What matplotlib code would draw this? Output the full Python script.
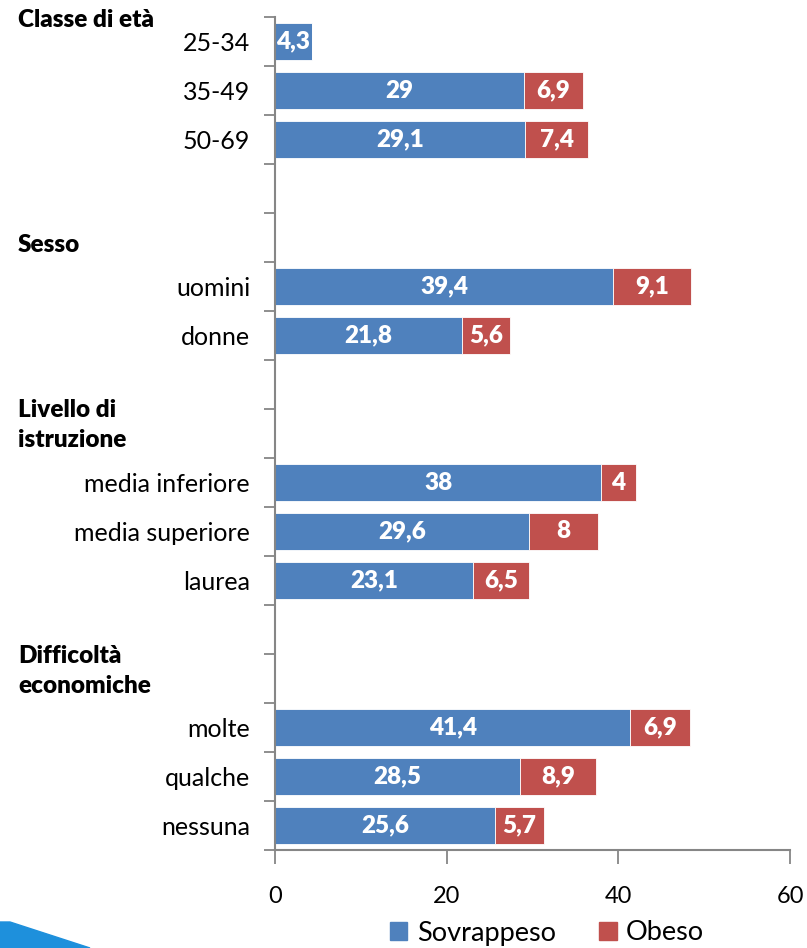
import matplotlib
matplotlib.use("Agg")
import matplotlib.pyplot as plt
from matplotlib.patches import Polygon
import numpy as np

# categorie (dall'alto in basso), righe vuote per separare i gruppi
categorie = ["25-34", "35-49", "50-69", "", "",
             "uomini", "donne", "", "",
             "media inferiore", "media superiore", "laurea", "", "",
             "molte", "qualche", "nessuna"]
sovrappeso = [4.3, 29, 29.1, np.nan, np.nan,
              39.4, 21.8, np.nan, np.nan,
              38, 29.6, 23.1, np.nan, np.nan,
              41.4, 28.5, 25.6]
obeso = [np.nan, 6.9, 7.4, np.nan, np.nan,
         9.1, 5.6, np.nan, np.nan,
         4, 8, 6.5, np.nan, np.nan,
         6.9, 8.9, 5.7]
# titoli dei gruppi e posizione verticale (in unita' di riga)
gruppi = ["Classe di età", "Sesso", "Livello di\nistruzione", "Difficoltà\neconomiche"]
pos_gruppi = [-0.44, 4.15, 7.83, 12.85]

BLU = "#4F81BD"
ROSSO = "#C0504D"
GRIGIO = "#868686"
FONT = "Lato"

plt.rcParams['font.family'] = [FONT, 'DejaVu Sans']

fig = plt.figure(figsize=(8.07, 9.48), dpi=100)
ax = fig.add_axes([275/807, 1-850/948, 515/807, (850-17)/948])

y = np.arange(len(categorie))
s = np.nan_to_num(np.array(sovrappeso, dtype=float))
o = np.nan_to_num(np.array(obeso, dtype=float))
ax.barh(y, s, height=0.76, color=BLU, edgecolor="white", linewidth=0.6)
ax.barh(y, o, left=s, height=0.76, color=ROSSO, edgecolor="white", linewidth=0.6)

def fmt(v):
    return ("%g" % v).replace(".", ",")

for i in range(len(categorie)):
    if s[i] > 0:
        ax.text(s[i] / 2, i, fmt(s[i]), ha="center", va="center",
                color="white", fontsize=17.5, fontweight="heavy")
    if o[i] > 0:
        ax.text(s[i] + o[i] / 2, i, fmt(o[i]), ha="center", va="center",
                color="white", fontsize=17.5, fontweight="heavy")

ax.set_ylim(len(categorie) - 0.5, -0.5)
ax.set_xlim(0, 60)
ax.set_xticks([0, 20, 40, 60])
ax.set_yticks(np.arange(len(categorie) + 1) - 0.5, minor=False)
ax.set_yticklabels([])
ax.set_yticks(y, minor=True)
ax.set_yticklabels(categorie, minor=True, fontsize=18)
ax.tick_params(axis="y", which="minor", length=0, pad=18)
ax.tick_params(axis="y", which="major", length=8, width=1.3, color=GRIGIO, direction="out")
ax.tick_params(axis="x", length=10, width=1.3, color=GRIGIO, direction="out",
               labelsize=17, pad=16)

for lato in ["top", "right"]:
    ax.spines[lato].set_visible(False)
for lato in ["left", "bottom"]:
    ax.spines[lato].set_color(GRIGIO)
    ax.spines[lato].set_linewidth(1.5)

trans = matplotlib.transforms.blended_transform_factory(fig.transFigure, ax.transData)
for testo, yy in zip(gruppi, pos_gruppi):
    ax.text(18/807, yy, testo, transform=trans, ha="left", va="center",
            fontsize=17.5, fontweight="heavy", linespacing=1.45, clip_on=False)

h1 = plt.Rectangle((0, 0), 1, 1, color=BLU)
h2 = plt.Rectangle((0, 0), 1, 1, color=ROSSO)
fig.legend([h1, h2], ["Sovrappeso", "Obeso"], loc="center",
           bbox_to_anchor=(547/807, 1-933/948), ncol=2, frameon=False,
           fontsize=19.5, handlelength=0.65, handleheight=0.65,
           handletextpad=0.35, columnspacing=1.6)

# frammento di logo in basso a sinistra
fig.patches.append(Polygon([[0, 0], [0, 26/948], [10/807, 26/948], [90/807, 0]],
                           closed=True, transform=fig.transFigure,
                           color="#1E90DC", zorder=0))

fig.savefig("out.png", dpi=100)
